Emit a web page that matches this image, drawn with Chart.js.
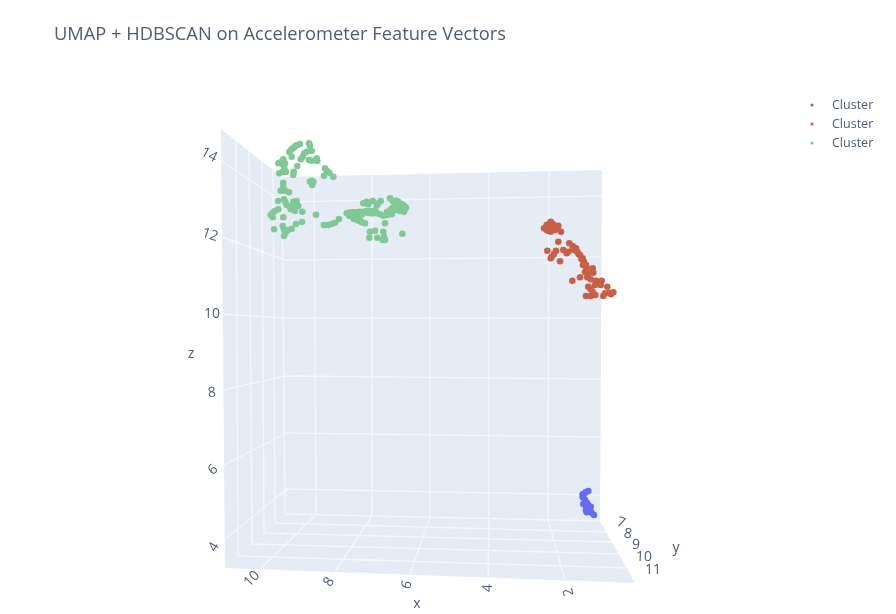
<!DOCTYPE html>
<html>
<head>
<meta charset="utf-8">
<title>UMAP + HDBSCAN</title>
<script src="https://cdn.jsdelivr.net/npm/chart.js@4"></script>
<style>
body { margin: 0; background: #fff; }
canvas { display: block; filter: blur(0.5px); }
</style>
</head>
<body>
<canvas id="umapChart" width="896" height="614"></canvas>
<script>
// values, in the 2D projection of the 3D scene
const blueX = [588.3, 585.7, 582.7, 582.7, 585, 583.3, 586, 588.3, 590.7, 586, 586.7, 589.3, 591.7, 594, 590, 584, 587];
const blueY = [491, 492.3, 494.3, 497.3, 500, 504, 506.7, 505, 506.7, 510, 512.3, 511.7, 512.7, 515, 510, 494, 503];

const redX = [550.7, 546.7, 544, 546.7, 550.7, 553.3, 550.7, 555, 558.3, 557.3, 561, 548.3, 558.3, 547.3, 556, 554, 551.7, 550.7, 560, 563.3, 566.7, 568.3, 572.7, 569.3, 572.7, 576, 577.3, 580, 582.7, 584, 586, 586.7, 588.3, 587.3, 590.7, 592.7, 593.3, 572.3, 580, 596, 595, 601.7, 600.7, 607.3, 588.3, 590.7, 592.7, 586, 590.7, 595.3, 603.3, 605, 609.3, 613.3, 611, 574.5, 578.5, 581.5, 583, 585, 553, 549.5];
const redY = [221.7, 225, 228.3, 230, 226.7, 228.3, 231.7, 230, 225.7, 228.3, 231.7, 230.7, 241.7, 250.7, 250.7, 254, 256.7, 258.3, 261.3, 250, 253.3, 251.7, 249.3, 243.3, 246, 248.3, 251.7, 255, 258.3, 261.7, 265, 268.3, 273.3, 277.3, 279.3, 268.3, 272.7, 280.7, 277.3, 280.7, 285, 280.7, 285, 286.7, 286.7, 289.3, 291.7, 296, 296, 295, 296, 293.3, 292.7, 292.3, 294.3, 250, 254, 259, 265, 272, 224, 223.5];

const greenX = [300, 297.7, 295.7, 294.3, 292.7, 291, 289.3, 309, 310, 311.7, 306.7, 304.3, 302.7, 300.7, 309, 311.7, 316.7, 317.3, 291.7, 297.3, 293.7, 293.3, 283.3, 280.7, 285, 283.3, 284.3, 282.7, 286, 279.3, 278.3, 325, 326.7, 329.3, 333.3, 324, 311.7, 310, 313.3, 312.3, 283.3, 283.3, 282.7, 280.7, 285, 289, 278.3, 284, 285.3, 286.7, 289.3, 290.7, 295, 293.3, 296.7, 298.3, 295, 302.3, 275, 278.3, 272.7, 270.7, 272.7, 283.3, 274, 282.7, 284, 286, 284, 285, 288.3, 291.7, 296, 302, 316, 324, 328, 331.7, 335, 339, 346.7, 350, 353.3, 356.7, 360, 363.3, 366.7, 370, 373.3, 376.7, 380, 383.3, 387.3, 391.7, 390, 392.7, 395, 399.3, 402.7, 405, 404, 400, 396.7, 390, 392.7, 396, 398.3, 400.7, 404.3, 406, 349.3, 352.7, 356, 357.3, 360, 361.7, 365, 385, 363.3, 366.7, 368.3, 372.7, 366.7, 380.7, 378.3, 376.7, 370, 375, 369.3, 377.3, 383.3, 384, 385, 382.7, 402.3, 355, 359, 362, 368, 372, 376, 387, 392, 396, 402, 354, 358];
const greenY = [144, 145, 145.7, 147.3, 148.3, 150, 152, 143.3, 145.7, 151, 151.7, 153.3, 156.7, 159.3, 160, 160.7, 158.3, 161, 156.7, 166, 171.7, 175, 159.3, 162.3, 163.3, 165, 168.3, 171.7, 171.7, 173.3, 163.3, 168.3, 170.7, 172.7, 176.7, 175.7, 180.7, 181.7, 181.7, 185, 182.7, 186.7, 190, 190.7, 190.7, 192.3, 201, 199.3, 202, 205, 206, 209.3, 211, 201.7, 201, 206, 205, 211.7, 211, 209.3, 212.7, 215, 217.3, 217.3, 229.3, 226, 229.3, 231.7, 236, 233.3, 230, 228.7, 224, 222, 214.7, 225, 225, 224, 222.7, 219, 213.3, 212.3, 212.3, 212.3, 211.7, 211.7, 211, 211, 211, 213.3, 214.3, 215.7, 215, 214.3, 210, 207.7, 206.7, 205.7, 207.7, 209, 211.7, 211, 210, 198.3, 201, 200.7, 201.7, 205, 205.7, 207.7, 215.7, 216.7, 215.7, 218.3, 220, 222.3, 223.3, 223.3, 203.3, 203.3, 204.3, 201, 201.7, 201, 203.3, 205.7, 231.7, 230.7, 237.7, 237.7, 231.7, 236.7, 240, 240, 233.7, 214.5, 214, 214.5, 213, 213.5, 212, 212, 211.5, 208, 204, 219, 220.5];

// panes of the box
const backWallX = [282, 602, 600, 285];
const backWallY = [177, 170, 521, 514];
const sideWallX = [221, 282, 285, 225];
const sideWallY = [129, 177, 514, 568];
const floorX = [225, 285, 600, 635];
const floorY = [568, 514, 521, 583];

// z grid lines: side wall edge, back corner, far edge of back wall
const zTicks = ['4', '6', '8', '10', '12', '14'];
const zSideX = [225, 224, 223, 222, 222, 221];
const zSideY = [539, 465, 390, 314, 237, 161];
const zCornerX = [287, 287, 285, 285, 285, 283];
const zCornerY = [489, 433, 376, 318, 260, 202];
const zBackX = [600, 600, 601, 601, 602, 602];
const zBackY = [495, 437, 379, 318, 257, 196];
const zLabelX = [214, 213, 212, 212, 210, 209];
const zLabelY = [547, 470, 393, 314, 235, 155];
const zLabelAngle = [-60, -40, -5, 0, 18, 28];

// x grid lines: top of back wall, foot of back wall, front of floor
const xTicks = ['10', '8', '6', '4', '2'];
const xTopX = [314, 372, 430, 489, 549];
const xTopY = [176.3, 175, 174, 172.5, 171];
const xFootX = [316, 372, 430, 489, 548];
const xFootY = [514.7, 516, 517, 518.5, 520];
const xFrontX = [260, 335, 410, 488, 565];
const xFrontY = [569.5, 572, 575, 578, 580.5];
const xLabelX = [252, 329, 407, 488, 569];
const xLabelY = [579, 582, 585, 588, 592];
const xLabelAngle = [-46, -57, -71, -88, -104];

// y grid lines: top of side wall, foot of side wall, right edge of floor
const yTicks = ['7', '8', '9', '10', '11'];
const yTopX = [282, 273, 262, 249, 236];
const yTopY = [177, 169, 160, 151, 141];
const yFootX = [285, 275, 264, 252, 238];
const yFootY = [514, 523, 533, 544, 556];
const yEdgeX = [600, 606, 612, 620, 628];
const yEdgeY = [521, 532, 542, 554, 568];
const yLabelX = [621, 628, 636, 644, 653];
const yLabelY = [523, 534, 545, 557, 570];
const yLabelAngle = [18, 10, 6, 2, 0];

const legendNames = ['Cluster', 'Cluster', 'Cluster'];
const legendX = [812, 812, 812];
const legendY = [105, 124, 143];

const clusterColors = ['#666cf0', '#c85f47', '#80c896'];
const paneColor = '#e5ecf6';
const textColor = '#4e5b7c';

function xy(xs, ys) {
    return xs.map((x, i) => ({ x: x, y: ys[i] }));
}

function gridLine(xs, ys) {
    return { data: xy(xs, ys), showLine: true, borderColor: '#f6f8fb', borderWidth: 1.4, pointRadius: 0, fill: false };
}

function pane(xs, ys) {
    return { data: xy(xs, ys), showLine: true, borderWidth: 0, pointRadius: 0, backgroundColor: paneColor, fill: 'shape' };
}

function markers(xs, ys, color) {
    return { data: xy(xs, ys), pointRadius: 3.3, pointBackgroundColor: color, pointBorderWidth: 0 };
}

const datasets = [
    markers(blueX, blueY, clusterColors[0]),
    markers(redX, redY, clusterColors[1]),
    markers(greenX, greenY, clusterColors[2]),
    { data: xy(legendX, legendY), pointRadius: 1.6, pointBorderWidth: 0, pointBackgroundColor: clusterColors }
];

zTicks.forEach((t, i) => {
    datasets.push(gridLine([zSideX[i], zCornerX[i], zBackX[i]], [zSideY[i], zCornerY[i], zBackY[i]]));
});
xTicks.forEach((t, i) => {
    datasets.push(gridLine([xTopX[i], xFootX[i], xFrontX[i]], [xTopY[i], xFootY[i], xFrontY[i]]));
});
yTicks.forEach((t, i) => {
    datasets.push(gridLine([yTopX[i], yFootX[i], yEdgeX[i]], [yTopY[i], yFootY[i], yEdgeY[i]]));
});
datasets.push(pane(backWallX, backWallY), pane(sideWallX, sideWallY), pane(floorX, floorY));

// plotly style text: rotated tick labels, axis titles, legend names, title
const sceneText = {
    id: 'sceneText',
    afterDraw(chart) {
        const { ctx, scales } = chart;
        const put = (text, x, y, font, angle, align) => {
            ctx.save();
            ctx.translate(scales.x.getPixelForValue(x), scales.y.getPixelForValue(y));
            ctx.rotate((angle || 0) * Math.PI / 180);
            ctx.font = font;
            ctx.fillStyle = textColor;
            ctx.textAlign = align || 'center';
            ctx.textBaseline = 'middle';
            ctx.fillText(text, 0, 0);
            ctx.restore();
        };
        const tickFont = '14px "Open Sans"';
        zTicks.forEach((t, i) => put(t, zLabelX[i], zLabelY[i], tickFont, zLabelAngle[i]));
        xTicks.forEach((t, i) => put(t, xLabelX[i], xLabelY[i], tickFont, xLabelAngle[i]));
        yTicks.forEach((t, i) => put(t, yLabelX[i], yLabelY[i], tickFont, yLabelAngle[i]));
        put('z', 191, 354, '14px "Open Sans"');
        put('x', 417, 604, '14px "Open Sans"');
        put('y', 676, 548, '14px "Open Sans"');
        legendNames.forEach((t, i) => put(t, 832, legendY[i] + 0.5, '12.5px "Open Sans"', 0, 'left'));
        put('UMAP + HDBSCAN on Accelerometer Feature Vectors', 54, 35, '18.3px "Open Sans"', 0, 'left');
    }
};

new Chart(document.getElementById('umapChart').getContext('2d'), {
    type: 'scatter',
    data: { datasets: datasets },
    options: {
        responsive: false,
        animation: false,
        layout: { padding: 0, autoPadding: false },
        scales: {
            x: { type: 'linear', min: 0, max: 896, display: false },
            y: { type: 'linear', min: 0, max: 614, reverse: true, display: false }
        },
        plugins: {
            legend: { display: false },
            tooltip: { enabled: false }
        }
    },
    plugins: [sceneText]
});
</script>
</body>
</html>
